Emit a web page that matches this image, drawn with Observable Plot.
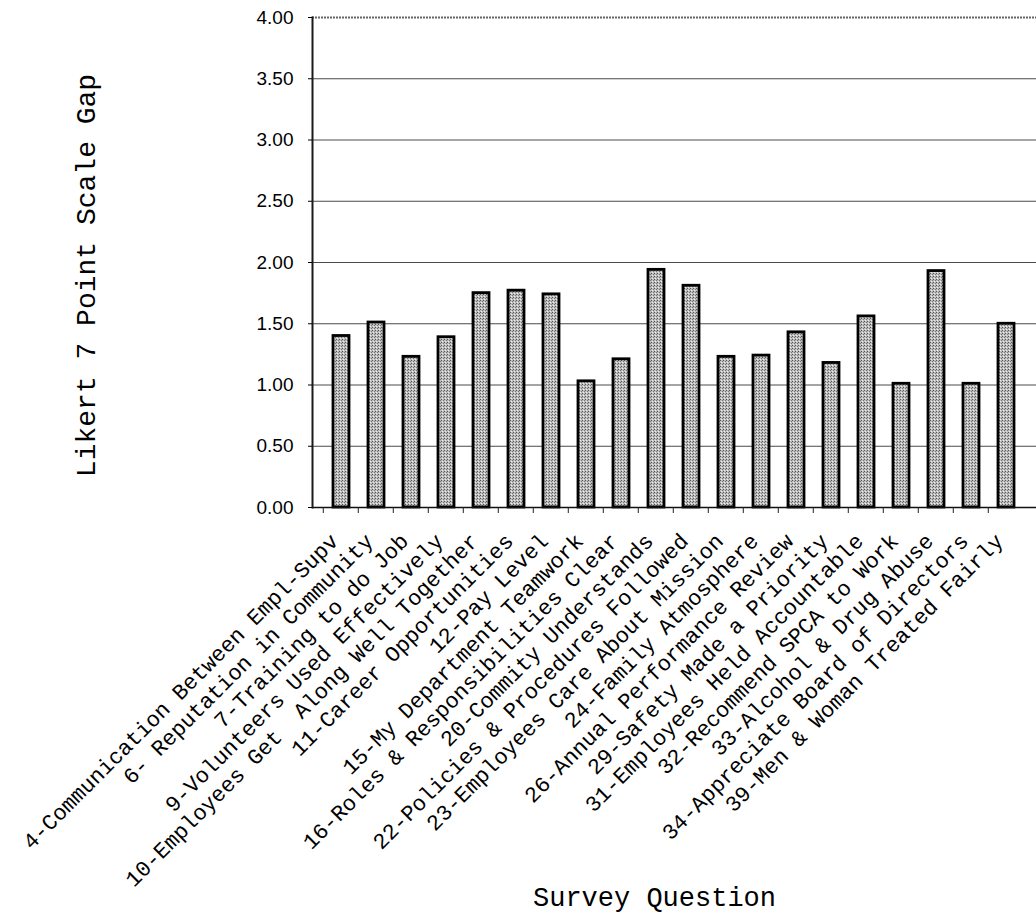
<!DOCTYPE html>
<html>
<head>
<meta charset="utf-8">
<script src="https://cdn.jsdelivr.net/npm/d3@7"></script>
<script src="https://cdn.jsdelivr.net/npm/@observablehq/plot@0.6"></script>
<style>
  body { margin: 0; background: #fff; }
  svg text { white-space: pre; }
</style>
</head>
<body>
<div id="chart"></div>
<script>
// Survey questions (x categories) and their gap on the 7-point Likert scale
const questions = [
  "4-Communication Between Empl-Supv",
  "6- Reputation in Community",
  "7-Training to do Job",
  "9-Volunteers Used Effectively",
  "10-Employees Get  Along Well Together",
  "11-Career Opportunities",
  "12-Pay Level",
  "15-My Department Teamwork",
  "16-Roles & Responsibilities Clear",
  "20-Commity Understands",
  "22-Policies & Procedures Followed",
  "23-Employees Care About Mission",
  "24-Family Atmosphere",
  "26-Annual Performance Review",
  "29-Safety Made a Priority",
  "31-Employees Held Accountable",
  "32-Recommend SPCA to Work",
  "33-Alcohol & Drug Abuse",
  "34-Appreciate Board of Directors",
  "39-Men & Woman Treated Fairly"
];
const gaps = [
  1.40, 1.51, 1.23, 1.39, 1.75, 1.77, 1.74, 1.03, 1.21, 1.94,
  1.81, 1.23, 1.24, 1.43, 1.18, 1.56, 1.01, 1.93, 1.01, 1.50
];
const yTicks = [0, 0.5, 1, 1.5, 2, 2.5, 3, 3.5, 4];
const yTitle = "Likert 7 Point Scale Gap";
const xTitle = "Survey Question";

const data = questions.map((q, i) => ({question: q, gap: gaps[i]}));

const W = 1036, H = 919;
const mono = "'Liberation Mono', 'Courier New', Courier, monospace";
const sans = "'Liberation Sans', Arial, Helvetica, sans-serif";
const xRange = [309.3, 1037.7];
const step = (xRange[1] - xRange[0]) / questions.length;

const chart = Plot.plot({
  width: W,
  height: H,
  marginLeft: 312,
  marginRight: 0,
  marginTop: 17,
  marginBottom: 412,
  style: {background: "#fff", overflow: "visible"},
  x: {domain: questions, range: xRange, padding: 0.545, label: null, axis: null},
  y: {domain: [0, 4], label: null, axis: null},
  marks: [
    // horizontal gridlines
    Plot.ruleY(yTicks.filter(v => v > 0 && v < 4), {stroke: "#4a4a4a", strokeWidth: 1}),
    // top border of the plot area
    Plot.ruleY([4], {stroke: "#666", strokeWidth: 2, strokeDasharray: "2,1"}),
    // bars
    Plot.barY(data, {x: "question", y: "gap", fill: "url(#stipple)", stroke: "#000", strokeWidth: 2.8}),
    // baseline and left axis line
    Plot.ruleY([0], {stroke: "#111", strokeWidth: 1.5}),
    Plot.frame({anchor: "left", stroke: "#1a1a1a", strokeWidth: 2}),
    // y axis ticks and labels
    Plot.axisY(yTicks, {
      anchor: "left", tickSize: 4, tickPadding: 15, tickFormat: d3.format(".2f"),
      fontFamily: sans, fontSize: 19, fill: "#000", stroke: "#000", label: null
    }),
    // category boundary ticks along the baseline
    Plot.axisX({
      anchor: "bottom", tickSize: 6, dx: -step / 2, tickFormat: () => "",
      stroke: "#222", label: null
    }),
    // rotated question labels
    Plot.axisX({
      anchor: "bottom", tickSize: 0, tickPadding: 30, tickRotate: -45, dx: -7,
      fontFamily: mono, fontSize: 22, fill: "#000", label: null
    }),
    // axis titles
    Plot.text([yTitle], {
      text: d => d, frameAnchor: "left", textAnchor: "middle", lineAnchor: "middle",
      rotate: -90, dx: -226, dy: 13,
      fontFamily: mono, fontSize: 28, fill: "#000"
    }),
    Plot.text([xTitle], {
      text: d => d, frameAnchor: "bottom", textAnchor: "middle", lineAnchor: "middle",
      dx: -20, dy: 390,
      fontFamily: mono, fontSize: 27, fill: "#000"
    })
  ]
});

// halftone-style fill for the bars
const defs = document.createElementNS("http://www.w3.org/2000/svg", "defs");
defs.innerHTML = `<pattern id="stipple" width="3" height="3" patternUnits="userSpaceOnUse">
  <rect width="3" height="3" fill="#bdbdbd"/>
  <rect x="0" y="0" width="1" height="1" fill="#555"/>
  <rect x="2" y="1" width="1" height="1" fill="#777"/>
  <rect x="1" y="2" width="1" height="1" fill="#eeeeee"/>
</pattern>`;
chart.insertBefore(defs, chart.firstChild);

document.getElementById("chart").append(chart);
</script>
</body>
</html>
